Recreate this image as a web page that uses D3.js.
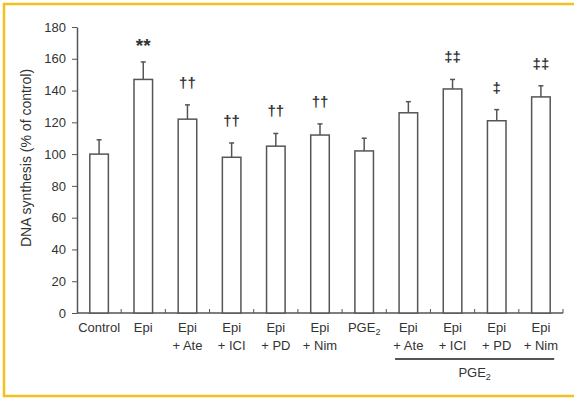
<!DOCTYPE html>
<html>
<head>
<meta charset="utf-8">
<script src="https://cdn.jsdelivr.net/npm/d3@7"></script>
<style>
  body { margin: 0; background: #fff; }
  svg { display: block; font-family: "Liberation Sans", Arial, sans-serif; }
  .axis text { fill: #333; font-size: 13px; }
  .axis line, .axis path { stroke: #555; }
</style>
</head>
<body>
<svg id="chart"></svg>
<script>
// data
const categories = ['Control', 'Epi', 'Epi+Ate', 'Epi+ICI', 'Epi+PD', 'Epi+Nim', 'PGE2',
                    'PGE2 Epi+Ate', 'PGE2 Epi+ICI', 'PGE2 Epi+PD', 'PGE2 Epi+Nim'];
const labelLine1 = ['Control', 'Epi', 'Epi', 'Epi', 'Epi', 'Epi', 'PGE', 'Epi', 'Epi', 'Epi', 'Epi'];
const labelLine2 = ['', '', '+ Ate', '+ ICI', '+ PD', '+ Nim', '', '+ Ate', '+ ICI', '+ PD', '+ Nim'];
const means = [100, 147, 122, 98, 105, 112, 102, 126, 141, 121, 136];
const errors = [9, 11, 9, 9, 8, 7, 8, 7, 6, 7, 7];
const marks = ['', '**', '††', '††', '††', '††', '', '', '‡‡', '‡', '‡‡'];
const yTicks = [0, 20, 40, 60, 80, 100, 120, 140, 160, 180];
const groupFirst = 'PGE2 Epi+Ate', groupLast = 'PGE2 Epi+Nim';

const width = 574, height = 398;
const margin = { top: 27, right: 11, bottom: 85, left: 77 };
const innerW = width - margin.left - margin.right;
const innerH = height - margin.top - margin.bottom;

const svg = d3.select('#chart').attr('width', width).attr('height', height);

// yellow frame (right side runs off the page)
svg.append('rect')
    .attr('x', 4).attr('y', 4)
    .attr('width', width + 10).attr('height', height - 6)
    .attr('fill', 'none')
    .attr('stroke', '#f3c11c')
    .attr('stroke-width', 2.5);

const chart = svg.append('g')
    .attr('transform', `translate(${margin.left},${margin.top})`);

const xScale = d3.scaleBand()
    .domain(categories)
    .range([0, innerW])
    .paddingInner(0.58)
    .paddingOuter(0.29);

const yScale = d3.scaleLinear()
    .domain([0, 180])
    .range([innerH, 0]);

const yAxis = d3.axisLeft(yScale)
    .tickValues(yTicks)
    .tickSize(5)
    .tickPadding(6)
    .tickSizeOuter(0);

chart.append('g')
    .attr('class', 'axis y-axis')
    .call(yAxis)
    .call(g => g.select('.domain').attr('stroke-width', 1.5));

// x axis line with small upward ticks at band boundaries
const xAxisG = chart.append('g')
    .attr('class', 'axis x-axis')
    .attr('transform', `translate(0,${innerH})`);

xAxisG.append('line')
    .attr('x1', 0).attr('x2', innerW)
    .attr('stroke', '#555').attr('stroke-width', 1.5);

const step = xScale.step();
const boundary = (d) => xScale(d) + xScale.bandwidth() + (step - xScale.bandwidth()) / 2;
xAxisG.selectAll('.xtick')
    .data(categories)
    .join('line')
    .attr('class', 'xtick')
    .attr('x1', boundary)
    .attr('x2', boundary)
    .attr('y1', 0).attr('y2', -4)
    .attr('stroke', '#888');

const cx = (d) => xScale(d) + xScale.bandwidth() / 2;

const labels = xAxisG.selectAll('.xlabel')
    .data(categories)
    .join('text')
    .attr('class', 'xlabel')
    .attr('text-anchor', 'middle')
    .attr('fill', '#333')
    .attr('font-size', 13)
    .attr('x', cx);

labels.append('tspan')
    .attr('x', cx)
    .attr('y', 19)
    .text((d, i) => labelLine1[i])
    .filter((d, i) => labelLine1[i] === 'PGE')
    .append('tspan')
    .attr('font-size', 9)
    .attr('dy', 3)
    .text('2');

labels.append('tspan')
    .attr('x', cx)
    .attr('y', 37)
    .text((d, i) => labelLine2[i]);

// group bracket for PGE2
const gx0 = xScale(groupFirst) - 4;
const gx1 = xScale(groupLast) + xScale.bandwidth() + 4;
xAxisG.append('line')
    .attr('x1', gx0).attr('x2', gx1)
    .attr('y1', 46).attr('y2', 46)
    .attr('stroke', '#555').attr('stroke-width', 2);

const groupLabel = xAxisG.append('text')
    .attr('x', (gx0 + gx1) / 2)
    .attr('y', 64)
    .attr('text-anchor', 'middle')
    .attr('fill', '#333')
    .attr('font-size', 13)
    .text('PGE');
groupLabel.append('tspan').attr('font-size', 9).attr('dy', 3).text('2');

// bars
chart.selectAll('.bar')
    .data(categories)
    .join('rect')
    .attr('class', 'bar')
    .attr('x', (d) => xScale(d))
    .attr('width', xScale.bandwidth())
    .attr('y', (d, i) => yScale(means[i]))
    .attr('height', (d, i) => innerH - yScale(means[i]))
    .attr('fill', '#fff')
    .attr('stroke', '#555')
    .attr('stroke-width', 1.5);

// error bars (upper only)
chart.selectAll('.err')
    .data(categories)
    .join('line')
    .attr('class', 'err')
    .attr('x1', cx).attr('x2', cx)
    .attr('y1', (d, i) => yScale(means[i]))
    .attr('y2', (d, i) => yScale(means[i] + errors[i]))
    .attr('stroke', '#555').attr('stroke-width', 1.5);

chart.selectAll('.cap')
    .data(categories)
    .join('line')
    .attr('class', 'cap')
    .attr('x1', (d) => cx(d) - 2.5).attr('x2', (d) => cx(d) + 2.5)
    .attr('y1', (d, i) => yScale(means[i] + errors[i]))
    .attr('y2', (d, i) => yScale(means[i] + errors[i]))
    .attr('stroke', '#555').attr('stroke-width', 1.5);

// significance marks
chart.selectAll('.mark')
    .data(categories)
    .join('text')
    .attr('class', 'mark')
    .attr('x', cx)
    .attr('y', (d, i) => yScale(means[i] + errors[i]) - (marks[i] === '**' ? 10 : 17))
    .attr('text-anchor', 'middle')
    .attr('fill', '#333')
    .attr('font-weight', 'bold')
    .attr('font-size', (d, i) => marks[i] === '**' ? 19 : 15)
    .text((d, i) => marks[i]);

// y axis title
svg.append('text')
    .attr('transform', `translate(31,${margin.top + innerH / 2 - 12}) rotate(-90)`)
    .attr('text-anchor', 'middle')
    .attr('fill', '#333')
    .attr('font-size', 14)
    .text('DNA synthesis (% of control)');
</script>
</body>
</html>
